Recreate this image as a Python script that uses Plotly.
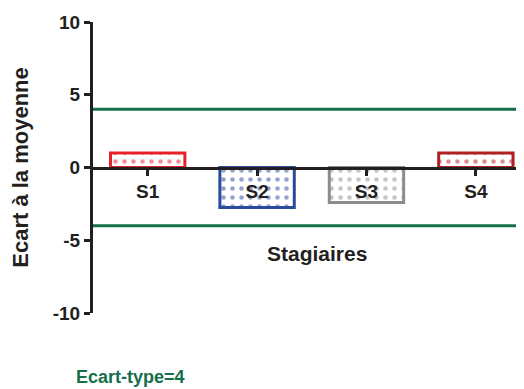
import plotly.graph_objects as go

# trainee deviation from the mean
stagiaires = ["S1", "S2", "S3", "S4"]
ecarts = [1.0, -2.75, -2.4, 1.0]
colors = ["#e8202a", "#2b4a9c", "#8c8c8c", "#b01f24"]
ecart_type = 4
y_ticks = [-10, -5, 0, 5, 10]

FONT = "Arial, Liberation Sans, sans-serif"
GREEN = "#15704a"
INK = "#231f20"

fig = go.Figure()
fig.add_trace(go.Bar(
    x=stagiaires, y=ecarts, width=0.68,
    marker=dict(color="white",
                line=dict(color=colors, width=3),
                pattern=dict(shape=".", fgcolor=colors, bgcolor="white",
                             size=9, solidity=0.2)),
    showlegend=False, hoverinfo="x+y"))

# +/- one standard deviation
for v in (ecart_type, -ecart_type):
    fig.add_hline(y=v, line=dict(color=GREEN, width=3), layer="above")

fig.add_annotation(text="<b>Stagiaires</b>", xref="paper", yref="y", x=0.52, y=-5.9,
                   showarrow=False, font=dict(family=FONT, size=21, color=INK),
                   yanchor="middle")
fig.add_annotation(text="<b>Ecart-type=4</b>", xref="paper", yref="paper", x=-0.045, y=-0.22,
                   showarrow=False, xanchor="left", yanchor="middle",
                   font=dict(family=FONT, size=18, color=GREEN))

tick_font = dict(size=19, family=FONT, color=INK)
# the page body has an 8 px margin, so the figure is 8 px smaller and margins shift by 8
fig.update_layout(
    width=516, height=381, margin=dict(l=85, r=0, t=14, b=76),
    plot_bgcolor="white", paper_bgcolor="white",
    font=dict(family=FONT, color=INK),
    xaxis=dict(range=[-0.5, 3.44], anchor="free", position=0.5, automargin=False,
               tickvals=stagiaires, ticktext=[f"<b>{s}</b>" for s in stagiaires],
               showline=True, linecolor=INK, linewidth=3,
               ticks="outside", ticklen=6, tickwidth=3, tickcolor=INK,
               tickfont=tick_font, showgrid=False, zeroline=False),
    yaxis=dict(range=[-10, 10], tickvals=y_ticks, automargin=False,
               ticktext=[f"<b>{t}</b>" for t in y_ticks],
               showline=True, linecolor=INK, linewidth=3,
               ticks="outside", ticklen=6, tickwidth=3, tickcolor=INK,
               tickfont=tick_font, showgrid=False, zeroline=False,
               title=dict(text="<b>Ecart à la moyenne</b>", standoff=20,
                          font=dict(size=22, family=FONT, color=INK))),
)
fig.write_html("out.html")
